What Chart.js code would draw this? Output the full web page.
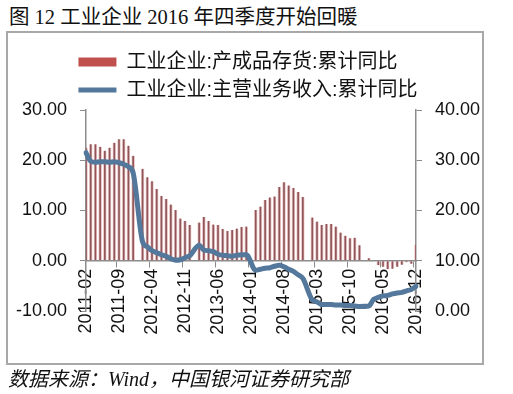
<!DOCTYPE html>
<html>
<head>
<meta charset="utf-8">
<script src="https://cdn.jsdelivr.net/npm/chart.js@4"></script>
<style>
html, body { margin: 0; padding: 0; background: #fff; }
body { width: 513px; height: 394px; position: relative; overflow: hidden; }
#title { position: absolute; left: 9px; top: 7px; font: 20.5px/20px "Liberation Serif", "Noto Sans CJK SC", serif; color: #111; white-space: nowrap; }
#frame { position: absolute; left: 6px; top: 31px; width: 474px; height: 330px; border: 2px solid #a8a8a8; }
#source { position: absolute; left: 8px; top: 369px; font: italic 20px/20px "Liberation Serif", "Noto Sans CJK SC", serif; color: #111; white-space: nowrap; }
#chart { position: absolute; left: 0; top: 0; }
</style>
</head>
<body>
<div id="title">图 12 工业企业 2016 年四季度开始回暖</div>
<div id="frame"></div>
<canvas id="chart" width="513" height="394"></canvas>
<div id="source">数据来源：Wind，中国银河证券研究部</div>
<script>
// months 2011-02 .. 2016-12 (January has no data)
const months = [
    '2011-02','2011-03','2011-04','2011-05','2011-06','2011-07','2011-08','2011-09','2011-10','2011-11','2011-12',
    '2012-01','2012-02','2012-03','2012-04','2012-05','2012-06','2012-07','2012-08','2012-09','2012-10','2012-11','2012-12',
    '2013-01','2013-02','2013-03','2013-04','2013-05','2013-06','2013-07','2013-08','2013-09','2013-10','2013-11','2013-12',
    '2014-01','2014-02','2014-03','2014-04','2014-05','2014-06','2014-07','2014-08','2014-09','2014-10','2014-11','2014-12',
    '2015-01','2015-02','2015-03','2015-04','2015-05','2015-06','2015-07','2015-08','2015-09','2015-10','2015-11','2015-12',
    '2016-01','2016-02','2016-03','2016-04','2016-05','2016-06','2016-07','2016-08','2016-09','2016-10','2016-11','2016-12'
];

// 产成品存货:累计同比 (left axis)
const inventoryYoY = [
    22.5, 23.2, 23.2, 22.7, 21.9, 22.5, 23.5, 24.2, 24.2, 22.9, 20.9,
    null, 18.3, 16.6, 15.8, 14.3, 12.9, 12.3, 11.2, 10.1, 8.4, 7.9, 7.1,
    null, 7.6, 8.7, 7.9, 7.2, 7.1, 6.3, 5.9, 6.1, 6.4, 6.7, 6.8,
    null, 10.1, 10.8, 12.1, 12.6, 12.8, 14.7, 15.6, 15.0, 14.5, 13.7, 12.7,
    null, 8.6, 7.8, 7.1, 7.3, 7.3, 6.8, 5.6, 5.0, 4.5, 4.6, 3.1,
    null, 0.5, -0.1, -0.9, -1.2, -1.7, -1.6, -1.2, -0.8, -0.3, -0.6, 3.2
];

// 主营业务收入:累计同比 (right axis)
const revenueYoY = [
    31.5, 29.8, 29.6, 29.7, 29.7, 29.6, 29.7, 29.5, 29.2, 28.7, 27.5,
    null, 13.8, 12.8, 12.0, 11.6, 11.2, 10.9, 10.4, 10.1, 10.2, 10.6, 11.0,
    null, 13.1, 12.1, 12.0, 11.8, 11.3, 11.1, 11.0, 10.9, 11.1, 11.2, 11.2,
    null, 8.1, 8.3, 8.5, 8.6, 8.9, 9.1, 8.8, 8.3, 7.9, 7.2, 6.5,
    null, 2.2, 1.8, 1.3, 1.3, 1.3, 1.2, 1.2, 1.1, 1.1, 1.0, 0.9,
    null, 1.0, 2.3, 2.7, 3.0, 3.1, 3.4, 3.6, 3.7, 4.0, 4.3, 4.9
];

const seriesNames = ['工业企业:产成品存货:累计同比', '工业企业:主营业务收入:累计同比'];
const labelEvery = 7;   // a tick label every 7 months

const barColor = '#8f5558';
const barEdge = '#ecc9c9';
const legendBarColor = '#c0504d';
const lineColor = '#53789b';
const axisColor = '#8c8c8c';
const sansFont = '"Liberation Sans", "Noto Sans CJK SC", sans-serif';

// give both legend rows the same width so they start at the same x
const legendRows = {
    id: 'legendRows',
    afterLayout(chart) {
        let lg = chart.legend;
        if (lg && lg.lineWidths && lg.lineWidths.length) {
            let w = Math.max(...lg.lineWidths);
            lg.lineWidths = lg.lineWidths.map(() => w);
        }
    }
};

let ctx = document.getElementById('chart').getContext('2d');
new Chart(ctx, {
    data: {
        labels: months,
        datasets: [{
            type: 'bar',
            label: seriesNames[0],
            data: inventoryYoY,
            yAxisID: 'y',
            backgroundColor: barColor,
            borderColor: barEdge,
            borderWidth: { left: 1, right: 1, top: 0, bottom: 0 },
            borderSkipped: false,
            barThickness: 3,
            order: 1
        }, {
            type: 'line',
            label: seriesNames[1],
            data: revenueYoY,
            yAxisID: 'y1',
            borderColor: lineColor,
            backgroundColor: lineColor,
            borderWidth: 5,
            borderCapStyle: 'round',
            borderJoinStyle: 'round',
            pointRadius: 0,
            cubicInterpolationMode: 'monotone',
            spanGaps: true,
            order: 0
        }]
    },
    options: {
        responsive: false,
        animation: false,
        layout: { padding: { left: 16, top: 44, right: 33, bottom: 83 } },
        plugins: {
            tooltip: { enabled: false },
            legend: {
                position: 'top',
                align: 'center',
                labels: {
                    usePointStyle: true,
                    pointStyleWidth: 38,
                    boxHeight: 9,
                    padding: 8,
                    color: '#111',
                    font: { size: 20, family: sansFont },
                    sort: (a, b) => a.datasetIndex - b.datasetIndex,
                    generateLabels(chart) {
                        let items = Chart.defaults.plugins.legend.labels.generateLabels(chart);
                        items.forEach(it => {
                            if (it.datasetIndex === 0) {
                                it.pointStyle = 'rect';
                                it.fillStyle = legendBarColor;
                                it.lineWidth = 0;
                            } else {
                                it.pointStyle = 'line';
                            }
                        });
                        return items;
                    }
                }
            }
        },
        scales: {
            x: {
                type: 'category',
                position: { y: 0 },
                offset: false,
                grid: {
                    drawOnChartArea: false,
                    tickLength: 6,
                    color: c => (c.index % labelEvery === 0 ? axisColor : 'rgba(0,0,0,0)')
                },
                border: { color: axisColor, width: 1.5 },
                ticks: {
                    autoSkip: false,
                    minRotation: 90,
                    maxRotation: 90,
                    padding: 2,
                    color: '#111',
                    font: { size: 18, family: sansFont },
                    callback: (v, i) => (i % labelEvery === 0 ? months[i] : '')
                }
            },
            y: {
                position: 'left',
                min: -10,
                max: 30,
                afterFit: s => { s.width = 70; },
                grid: { drawOnChartArea: false, tickLength: 6, color: axisColor },
                border: { color: axisColor, width: 1.5 },
                ticks: {
                    stepSize: 10,
                    padding: 13,
                    color: '#111',
                    font: { size: 18, family: sansFont },
                    callback: v => v.toFixed(2)
                }
            },
            y1: {
                position: 'right',
                min: 0,
                max: 40,
                afterFit: s => { s.width = 64; },
                grid: { drawOnChartArea: false, tickLength: 6, color: axisColor },
                border: { color: axisColor, width: 1.5 },
                ticks: {
                    stepSize: 10,
                    padding: 13,
                    color: '#111',
                    font: { size: 18, family: sansFont },
                    callback: v => v.toFixed(2)
                }
            }
        }
    },
    plugins: [legendRows]
});
</script>
</body>
</html>
